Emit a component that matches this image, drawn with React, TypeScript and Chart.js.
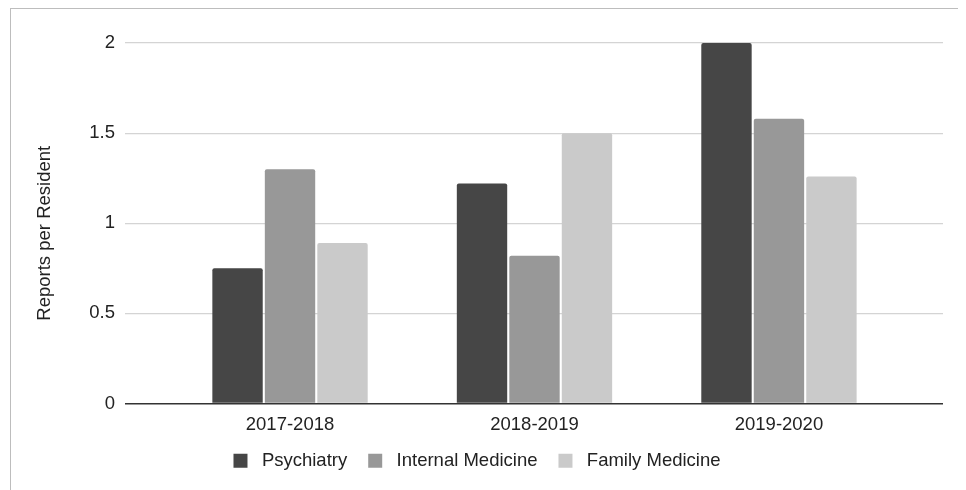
import React, { useEffect, useRef } from "react";
import { Chart, registerables } from "chart.js";

Chart.register(...registerables);

const categories = ["2017-2018", "2018-2019", "2019-2020"];
const seriesNames = ["Psychiatry", "Internal Medicine", "Family Medicine"];
const psychiatry = [0.75, 1.22, 2.0];
const internalMedicine = [1.3, 0.82, 1.58];
const familyMedicine = [0.89, 1.5, 1.26];
const seriesColors = ["#464646", "#989898", "#cacaca"];
const yTicks = [0, 0.5, 1, 1.5, 2];
const yAxisTitle = "Reports per Resident";

const FONT = "'Liberation Sans', Arial, Helvetica, sans-serif";

const yTitlePlugin = {
  id: "yTitle",
  afterDraw(chart: any) {
    const { ctx, chartArea } = chart;
    ctx.save();
    ctx.translate(34, (chartArea.top + chartArea.bottom) / 2 + 10);
    ctx.rotate(-Math.PI / 2);
    ctx.font = `18.5px ${FONT}`;
    ctx.fillStyle = "#222";
    ctx.textAlign = "center";
    ctx.textBaseline = "middle";
    ctx.fillText(yAxisTitle, 0, 0);
    ctx.restore();
  },
};

export default function App() {
  const ref = useRef<HTMLCanvasElement | null>(null);

  useEffect(() => {
    document.body.style.overflow = "hidden";
    document.documentElement.style.overflow = "hidden";
    const values = [psychiatry, internalMedicine, familyMedicine];
    const chart = new Chart(ref.current as HTMLCanvasElement, {
      type: "bar",
      data: {
        datasets: seriesNames.map((name, s) => ({
          label: name,
          data: values[s].map((v, i) => ({ x: i, y: v })),
          backgroundColor: seriesColors[s],
          borderWidth: 0,
          borderRadius: 2,
          borderSkipped: "bottom",
          categoryPercentage: 0.644,
          barPercentage: 0.96,
        })),
      },
      plugins: [yTitlePlugin],
      options: {
        animation: false,
        responsive: true,
        maintainAspectRatio: false,
        layout: { padding: { top: 34, right: 15, left: 0, bottom: 10 } },
        plugins: {
          tooltip: { enabled: false },
          legend: {
            position: "bottom",
            labels: {
              color: "#222",
              font: { family: FONT, size: 18.5 },
              boxWidth: 14,
              boxHeight: 14,
              padding: 21,
              generateLabels: (c: any) =>
                Chart.defaults.plugins.legend.labels
                  .generateLabels(c)
                  .map((l: any) => ({ ...l, text: " " + l.text })),
            },
          },
        },
        scales: {
          x: {
            type: "linear",
            offset: false,
            min: -0.675,
            max: 2.671,
            grid: { display: false, drawTicks: false },
            border: { display: false },
            afterBuildTicks: (scale: any) => {
              scale.ticks = categories.map((_, i) => ({ value: i }));
            },
            afterFit: (scale: any) => {
              scale.height = 27;
            },
            ticks: {
              padding: 10,
              color: "#222",
              font: { family: FONT, size: 18.5 },
              autoSkip: false,
              maxRotation: 0,
              callback: (v: any) => categories[Math.round(Number(v))] ?? "",
            },
          },
          y: {
            min: 0,
            max: 2,
            afterBuildTicks: (scale: any) => {
              scale.ticks = yTicks.map((v) => ({ value: v }));
            },
            afterFit: (scale: any) => {
              scale.width = 114;
            },
            border: { display: false },
            grid: {
              drawTicks: false,
              lineWidth: (ctx: any) => (ctx.tick && ctx.tick.value === 0 ? 1.5 : 1.2),
              color: (ctx: any) => (ctx.tick && ctx.tick.value === 0 ? "#333333" : "#d4d4d4"),
            },
            ticks: {
              padding: 10,
              color: "#222",
              font: { family: FONT, size: 18.5 },
              callback: (v: any) => String(v),
            },
          },
        },
      },
    });
    return () => chart.destroy();
  }, []);

  return (
    <div
      style={{
        width: 947,
        height: 481,
        marginLeft: 2,
        borderLeft: "1px solid #bdbdbd",
        borderTop: "1px solid #bdbdbd",
        position: "relative",
      }}
    >
      <canvas ref={ref} />
    </div>
  );
}
